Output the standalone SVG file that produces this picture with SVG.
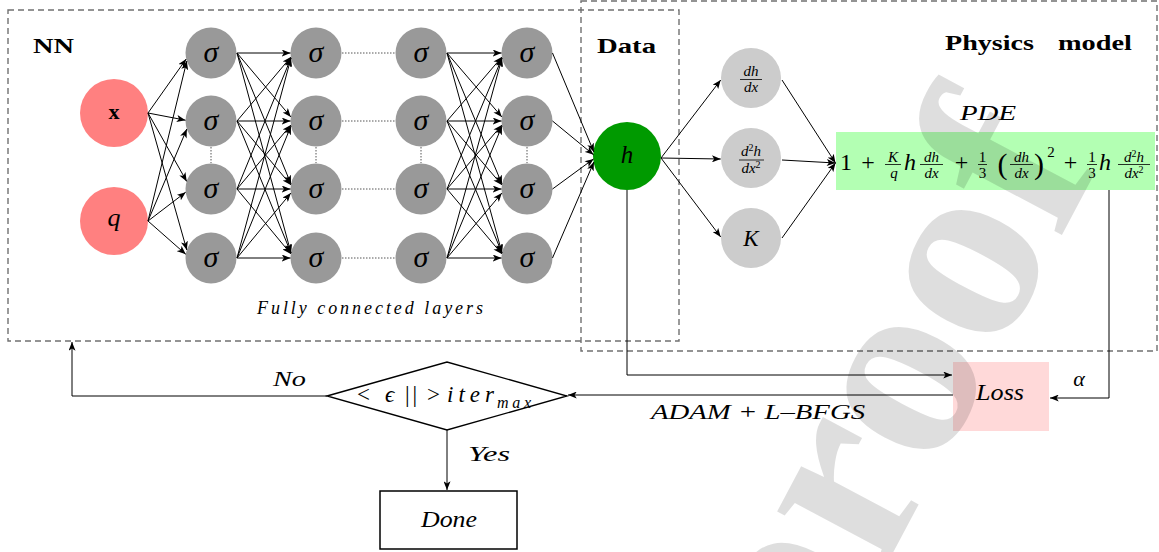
<svg xmlns="http://www.w3.org/2000/svg" width="1159" height="552" viewBox="0 0 1159 552">
<defs>
<marker id="ah" viewBox="0 0 10 8" refX="10" refY="4" markerWidth="9" markerHeight="7" markerUnits="userSpaceOnUse" orient="auto"><path d="M0,0 L10,4 L0,8 L2.5,4 z" fill="#000"/></marker>
<style>
.dash{fill:none;stroke:#707070;stroke-width:1.4;stroke-dasharray:6 4}
.hid{fill:#999}
.phy{fill:#ccc}
.inp{fill:#ff8080}
.c line,.c path{stroke:#000;stroke-width:1;fill:none;marker-end:url(#ah)}
.dot{stroke:#555;stroke-width:1;stroke-dasharray:1.5 1.5;fill:none}
.m{font-family:"Liberation Serif","DejaVu Serif",serif;font-style:italic;fill:#000}
.r{font-family:"Liberation Serif","DejaVu Serif",serif;fill:#000}
.b{font-family:"Liberation Serif","DejaVu Serif",serif;font-weight:bold;fill:#000}
.sig{font-size:30px;text-anchor:middle}
.fr{font-size:15px;text-anchor:middle}
.nf{font-size:15px;text-anchor:middle}
.big{font-size:24px;text-anchor:middle}
.bar{stroke:#000;stroke-width:0.8}
</style>
</defs>
<rect width="1159" height="552" fill="#fff"/>

<!-- frames -->
<rect id="nn-frame" class="dash" x="8" y="10" width="671" height="331"/>
<rect id="physics-frame" class="dash" x="581" y="1" width="576" height="350"/>
<text class="b" x="33" y="53" font-size="22" textLength="41" lengthAdjust="spacingAndGlyphs">NN</text>
<text class="b" x="597" y="53" font-size="22" textLength="59" lengthAdjust="spacingAndGlyphs">Data</text>
<text class="b" x="945" y="50" font-size="22" textLength="89" lengthAdjust="spacingAndGlyphs">Physics</text>
<text class="b" x="1058" y="50" font-size="22" textLength="74" lengthAdjust="spacingAndGlyphs">model</text>
<text class="m" x="257" y="314" font-size="18" textLength="226" lengthAdjust="spacing">Fully connected layers</text>

<!-- dotted ellipsis lines -->
<g id="ellipsis">
<line class="dot" x1="342" y1="53" x2="395" y2="53"/>
<line class="dot" x1="342" y1="121" x2="395" y2="121"/>
<line class="dot" x1="342" y1="189" x2="395" y2="189"/>
<line class="dot" x1="342" y1="258" x2="395" y2="258"/>
<line class="dot" x1="211" y1="147" x2="211" y2="163"/>
<line class="dot" x1="316" y1="147" x2="316" y2="163"/>
<line class="dot" x1="421" y1="147" x2="421" y2="163"/>
<line class="dot" x1="527" y1="147" x2="527" y2="163"/>
</g>

<!-- input nodes -->
<g id="in-x"><circle class="inp" cx="114" cy="113" r="34"/><text class="b" x="114" y="119" font-size="22" text-anchor="middle">x</text></g>
<g id="in-q"><circle class="inp" cx="114" cy="221" r="34"/><text class="m" x="114" y="226" font-size="26" text-anchor="middle">q</text></g>

<!-- hidden layers -->
<g id="h1-1"><circle class="hid" cx="211" cy="53" r="25.5"/><text class="m sig" x="211" y="62">σ</text></g>
<g id="h1-2"><circle class="hid" cx="211" cy="121" r="25.5"/><text class="m sig" x="211" y="130">σ</text></g>
<g id="h1-3"><circle class="hid" cx="211" cy="189" r="25.5"/><text class="m sig" x="211" y="198">σ</text></g>
<g id="h1-4"><circle class="hid" cx="211" cy="258" r="25.5"/><text class="m sig" x="211" y="267">σ</text></g>
<g id="h2-1"><circle class="hid" cx="316" cy="53" r="25.5"/><text class="m sig" x="316" y="62">σ</text></g>
<g id="h2-2"><circle class="hid" cx="316" cy="121" r="25.5"/><text class="m sig" x="316" y="130">σ</text></g>
<g id="h2-3"><circle class="hid" cx="316" cy="189" r="25.5"/><text class="m sig" x="316" y="198">σ</text></g>
<g id="h2-4"><circle class="hid" cx="316" cy="258" r="25.5"/><text class="m sig" x="316" y="267">σ</text></g>
<g id="h3-1"><circle class="hid" cx="421" cy="53" r="25.5"/><text class="m sig" x="421" y="62">σ</text></g>
<g id="h3-2"><circle class="hid" cx="421" cy="121" r="25.5"/><text class="m sig" x="421" y="130">σ</text></g>
<g id="h3-3"><circle class="hid" cx="421" cy="189" r="25.5"/><text class="m sig" x="421" y="198">σ</text></g>
<g id="h3-4"><circle class="hid" cx="421" cy="258" r="25.5"/><text class="m sig" x="421" y="267">σ</text></g>
<g id="h4-1"><circle class="hid" cx="527" cy="53" r="25.5"/><text class="m sig" x="527" y="62">σ</text></g>
<g id="h4-2"><circle class="hid" cx="527" cy="121" r="25.5"/><text class="m sig" x="527" y="130">σ</text></g>
<g id="h4-3"><circle class="hid" cx="527" cy="189" r="25.5"/><text class="m sig" x="527" y="198">σ</text></g>
<g id="h4-4"><circle class="hid" cx="527" cy="258" r="25.5"/><text class="m sig" x="527" y="267">σ</text></g>

<!-- data node -->
<g id="data-h"><circle cx="627" cy="156" r="34" fill="#009a00"/><text class="m" x="627" y="163" font-size="25" text-anchor="middle">h</text></g>

<!-- physics nodes -->
<g id="p-dhdx"><circle class="phy" cx="751" cy="78" r="30"/>
<text class="m nf" x="751" y="76">dh</text><line class="bar" x1="740" y1="79.5" x2="762" y2="79.5"/><text class="m nf" x="751" y="92">dx</text></g>
<g id="p-d2hdx2"><circle class="phy" cx="751" cy="158" r="30"/>
<text class="m nf" x="751" y="156">d<tspan font-size="10" dy="-5" font-style="normal">2</tspan><tspan dy="5">h</tspan></text><line class="bar" x1="739" y1="160" x2="764" y2="160"/><text class="m nf" x="751" y="173">dx<tspan font-size="10" dy="-5" font-style="normal">2</tspan></text></g>
<g id="p-K"><circle class="phy" cx="751" cy="238" r="30"/><text class="m" x="751" y="246" font-size="23" text-anchor="middle">K</text></g>

<!-- PDE -->
<g id="pde">
<text class="m" x="960" y="120" font-size="22" textLength="56" lengthAdjust="spacingAndGlyphs">PDE</text>
<rect x="836" y="132" width="319" height="58" fill="#b3ffb3"/>
<text class="r big" x="846" y="170">1</text>
<text class="r big" x="868" y="170">+</text>
<text class="m fr" x="893" y="161.5">K</text><line class="bar" x1="885" y1="164.5" x2="901" y2="164.5"/><text class="m fr" x="894" y="177.5">q</text>
<text class="m big" x="910" y="170">h</text>
<text class="m fr" x="931.5" y="161.5">dh</text><line class="bar" x1="920" y1="164.5" x2="943" y2="164.5"/><text class="m fr" x="931.5" y="177.5">dx</text>
<text class="r big" x="961.5" y="170">+</text>
<text class="r fr" x="982.5" y="161.5">1</text><line class="bar" x1="978" y1="164.5" x2="987" y2="164.5"/><text class="r fr" x="982.5" y="177.5">3</text>
<text class="r" x="1002.5" y="174" font-size="30" text-anchor="middle">(</text>
<text class="m fr" x="1021.5" y="161.5">dh</text><line class="bar" x1="1010" y1="164.5" x2="1033" y2="164.5"/><text class="m fr" x="1021.5" y="177.5">dx</text>
<text class="r" x="1039" y="174" font-size="30" text-anchor="middle">)</text>
<text class="r fr" x="1051" y="157">2</text>
<text class="r big" x="1070.5" y="170">+</text>
<text class="r fr" x="1092" y="161.5">1</text><line class="bar" x1="1087" y1="164.5" x2="1097" y2="164.5"/><text class="r fr" x="1092" y="177.5">3</text>
<text class="m big" x="1105" y="170">h</text>
<text class="m fr" x="1134" y="161.5">d<tspan font-size="10" dy="-5" font-style="normal">2</tspan><tspan dy="5">h</tspan></text><line class="bar" x1="1118" y1="164.5" x2="1150" y2="164.5"/><text class="m fr" x="1134" y="177.5">dx<tspan font-size="10" dy="-5" font-style="normal">2</tspan></text>
</g>

<!-- Loss -->
<g id="loss"><rect x="953" y="362" width="96" height="69" fill="#ffd9d9"/><text class="m" x="976" y="400" font-size="24" textLength="48" lengthAdjust="spacingAndGlyphs">Loss</text></g>

<!-- decision -->
<g id="decision"><polygon points="327,396 447,362 567,396 447,430" fill="#fff" stroke="#000" stroke-width="1.3"/>
<text class="r" x="357" y="402" font-size="23">&lt;</text>
<text class="m" x="385" y="402" font-size="23">ϵ</text>
<text class="r" x="405" y="402" font-size="23" textLength="12" lengthAdjust="spacing">||</text>
<text class="r" x="427" y="402" font-size="23">&gt;</text>
<text class="m" x="447" y="402" font-size="23" textLength="47" lengthAdjust="spacing">iter</text>
<text class="m" x="497" y="408" font-size="16" textLength="34" lengthAdjust="spacing">max</text>
</g>

<!-- done -->
<g id="done"><rect x="380" y="491" width="137" height="58" fill="#fff" stroke="#000" stroke-width="1.5"/><text class="m" x="421" y="527" font-size="23" textLength="56" lengthAdjust="spacingAndGlyphs">Done</text></g>

<!-- connectors -->
<g id="connectors" class="c">
<line x1="148" y1="113" x2="186.2" y2="59"/>
<line x1="148" y1="113" x2="185.5" y2="120.2"/>
<line x1="148" y1="113" x2="186.7" y2="181.4"/>
<line x1="148" y1="113" x2="186.8" y2="250"/>
<line x1="148" y1="221" x2="186.8" y2="61"/>
<line x1="148" y1="221" x2="186.8" y2="129"/>
<line x1="148" y1="221" x2="185.7" y2="192.2"/>
<line x1="148" y1="221" x2="185.8" y2="254.3"/>
<line x1="237" y1="53" x2="290.5" y2="53"/>
<line x1="237" y1="53" x2="290.8" y2="116.9"/>
<line x1="237" y1="53" x2="291" y2="184"/>
<line x1="237" y1="53" x2="291" y2="253"/>
<line x1="237" y1="121" x2="290.8" y2="57.1"/>
<line x1="237" y1="121" x2="290.5" y2="121"/>
<line x1="237" y1="121" x2="290.8" y2="184.9"/>
<line x1="237" y1="121" x2="291" y2="253"/>
<line x1="237" y1="189" x2="291" y2="58"/>
<line x1="237" y1="189" x2="290.8" y2="125.1"/>
<line x1="237" y1="189" x2="290.5" y2="189"/>
<line x1="237" y1="189" x2="290.8" y2="253.9"/>
<line x1="237" y1="258" x2="291" y2="58"/>
<line x1="237" y1="258" x2="291" y2="126"/>
<line x1="237" y1="258" x2="290.8" y2="193.1"/>
<line x1="237" y1="258" x2="290.5" y2="258"/>
<line x1="447" y1="53" x2="501.5" y2="53"/>
<line x1="447" y1="53" x2="501.8" y2="116.9"/>
<line x1="447" y1="53" x2="502" y2="184"/>
<line x1="447" y1="53" x2="502" y2="253"/>
<line x1="447" y1="121" x2="501.8" y2="57.1"/>
<line x1="447" y1="121" x2="501.5" y2="121"/>
<line x1="447" y1="121" x2="501.8" y2="184.9"/>
<line x1="447" y1="121" x2="502" y2="253"/>
<line x1="447" y1="189" x2="502" y2="58"/>
<line x1="447" y1="189" x2="501.8" y2="125.1"/>
<line x1="447" y1="189" x2="501.5" y2="189"/>
<line x1="447" y1="189" x2="501.8" y2="253.9"/>
<line x1="447" y1="258" x2="502" y2="58"/>
<line x1="447" y1="258" x2="502" y2="126"/>
<line x1="447" y1="258" x2="501.8" y2="193.1"/>
<line x1="447" y1="258" x2="501.5" y2="258"/>
<line x1="552.5" y1="53" x2="593.9" y2="152"/>
<line x1="552.5" y1="121" x2="593.6" y2="154.8"/>
<line x1="552.5" y1="189" x2="593.6" y2="158.9"/>
<line x1="552.5" y1="258" x2="593.9" y2="162"/>
<line x1="661" y1="158" x2="720.7" y2="80"/>
<line x1="661" y1="158" x2="720.7" y2="159"/>
<line x1="661" y1="158" x2="720.7" y2="237"/>
<line x1="782" y1="80" x2="835.5" y2="163"/>
<line x1="782" y1="160" x2="835.5" y2="163"/>
<line x1="782" y1="238" x2="835.5" y2="163"/>
<path d="M627,190 V375 H952"/>
<path d="M1109,190 V398 H1050"/>
<path d="M953,395 H568"/>
<path d="M327,396 H72 V342"/>
<path d="M447,430 V490"/>
</g>

<!-- connector labels -->
<text class="m" x="1079" y="386" font-size="22" text-anchor="middle">α</text>
<text class="m" x="651" y="419" font-size="22" textLength="214" lengthAdjust="spacingAndGlyphs">ADAM + L–BFGS</text>
<text class="m" x="273" y="386" font-size="21" textLength="33" lengthAdjust="spacingAndGlyphs">No</text>
<text class="m" x="468" y="461" font-size="21" textLength="42" lengthAdjust="spacingAndGlyphs">Yes</text>

<!-- watermark -->
<text x="0" y="0" transform="translate(812,705) rotate(-62)" font-family="Liberation Serif, serif" font-weight="bold" font-size="265" fill="#000" fill-opacity="0.13">proof</text>
</svg>
